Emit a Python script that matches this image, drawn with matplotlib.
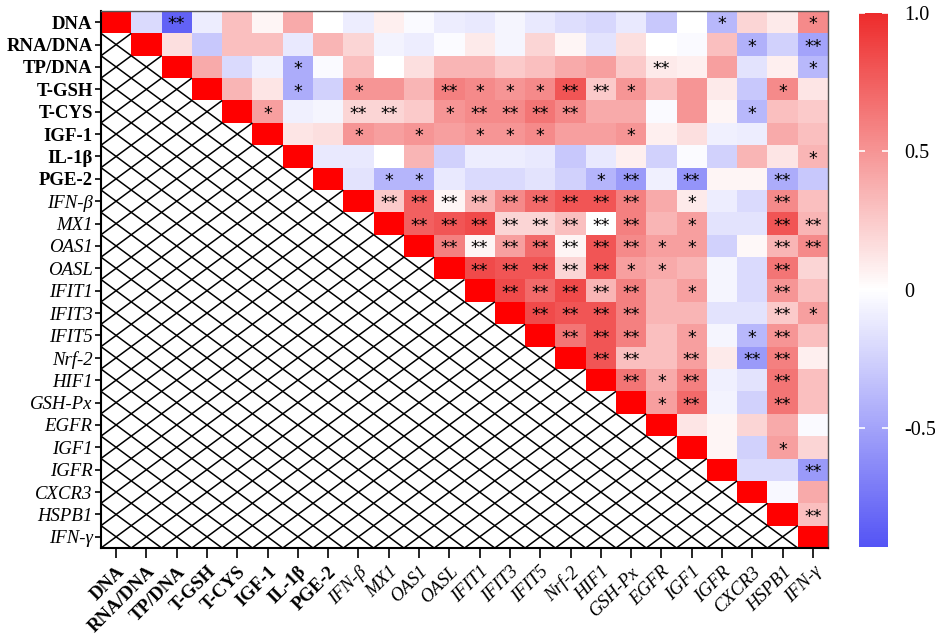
import numpy as np
import matplotlib
matplotlib.use('Agg')
import matplotlib.pyplot as plt
from matplotlib.colors import LinearSegmentedColormap, Normalize
from matplotlib.collections import LineCollection

labels = ['DNA', 'RNA/DNA', 'TP/DNA', 'T-GSH', 'T-CYS', 'IGF-1', 'IL-1β', 'PGE-2',
          'IFN-β', 'MX1', 'OAS1', 'OASL', 'IFIT1', 'IFIT3', 'IFIT5', 'Nrf-2', 'HIF1',
          'GSH-Px', 'EGFR', 'IGF1', 'IGFR', 'CXCR3', 'HSPB1', 'IFN-γ']
n_bold = 8  # first labels are bold, the genes are italic

# correlation values right of the diagonal, one list per row
upper = [
    [-0.2, -0.85, -0.1, 0.3, 0.05, 0.4, 0.0, -0.1, 0.08, -0.03, -0.1, -0.12, -0.05, -0.12, -0.18, -0.22, -0.12, -0.3, 0.0, -0.38, 0.2, 0.1, 0.55],
    [0.15, -0.3, 0.3, 0.3, -0.12, 0.35, 0.2, -0.07, -0.1, -0.02, 0.1, -0.05, 0.2, 0.05, -0.15, 0.15, 0.0, -0.03, 0.3, -0.42, -0.25, -0.5],
    [0.4, -0.2, -0.08, -0.45, -0.03, 0.3, 0.0, 0.15, 0.35, 0.35, 0.25, 0.3, 0.4, 0.45, 0.25, 0.1, 0.08, 0.45, -0.15, 0.08, -0.38],
    [0.35, 0.12, -0.45, -0.25, 0.5, 0.5, 0.35, 0.6, 0.55, 0.5, 0.55, 0.8, 0.25, 0.5, 0.3, 0.5, 0.1, -0.3, 0.55, 0.12],
    [0.45, -0.08, -0.05, 0.2, 0.2, 0.25, 0.5, 0.55, 0.55, 0.65, 0.55, 0.4, 0.4, -0.03, 0.5, 0.05, -0.38, 0.3, 0.25],
    [0.12, 0.15, 0.5, 0.45, 0.5, 0.45, 0.5, 0.5, 0.55, 0.45, 0.45, 0.5, 0.08, 0.15, -0.08, -0.1, 0.4, 0.3],
    [-0.12, -0.12, 0.0, 0.35, -0.25, -0.1, -0.1, -0.12, -0.3, -0.12, 0.08, -0.25, -0.02, -0.25, 0.35, 0.12, 0.35],
    [-0.15, -0.4, -0.4, -0.12, -0.2, -0.2, -0.15, -0.25, -0.4, -0.55, -0.08, -0.58, 0.05, 0.05, -0.45, -0.3],
    [0.25, 0.75, 0.05, 0.35, 0.55, 0.7, 0.8, 0.8, 0.6, 0.4, 0.1, -0.1, -0.2, 0.55, 0.3],
    [0.75, 0.8, 0.85, 0.2, 0.2, 0.3, 0.0, 0.6, 0.35, 0.45, -0.15, -0.15, 0.8, 0.35],
    [0.6, 0.05, 0.45, 0.7, 0.05, 0.8, 0.55, 0.45, 0.45, -0.25, 0.03, 0.35, 0.55],
    [0.85, 0.8, 0.8, 0.2, 0.8, 0.45, 0.4, 0.35, -0.05, -0.2, 0.65, 0.2],
    [0.85, 0.7, 0.85, 0.35, 0.6, 0.35, 0.45, -0.05, -0.2, 0.5, 0.3],
    [0.85, 0.8, 0.8, 0.6, 0.35, 0.35, -0.15, -0.15, 0.25, 0.45],
    [0.65, 0.8, 0.6, 0.3, 0.45, -0.05, -0.38, 0.5, 0.3],
    [0.8, 0.3, 0.3, 0.45, 0.1, -0.55, 0.6, 0.08],
    [0.65, 0.4, 0.6, -0.08, -0.15, 0.65, 0.3],
    [0.45, 0.7, -0.07, -0.25, 0.65, 0.3],
    [0.12, 0.05, 0.2, 0.4, -0.03],
    [0.05, -0.25, 0.45, 0.2],
    [-0.2, -0.2, -0.55],
    [-0.04, 0.4],
    [0.3],
]

# significance marks: (row, col, mark)
marks = [
    (0, 2, '**'), (0, 20, '*'), (0, 23, '*'),
    (1, 21, '*'), (1, 23, '**'),
    (2, 6, '*'), (2, 18, '**'), (2, 23, '*'),
    (3, 6, '*'), (3, 8, '*'), (3, 11, '**'), (3, 12, '*'), (3, 13, '*'), (3, 14, '*'),
    (3, 15, '**'), (3, 16, '**'), (3, 17, '*'), (3, 22, '*'),
    (4, 5, '*'), (4, 8, '**'), (4, 9, '**'), (4, 11, '*'), (4, 12, '**'), (4, 13, '**'),
    (4, 14, '**'), (4, 15, '**'), (4, 21, '*'),
    (5, 8, '*'), (5, 10, '*'), (5, 12, '*'), (5, 13, '*'), (5, 14, '*'), (5, 17, '*'),
    (6, 23, '*'),
    (7, 9, '*'), (7, 10, '*'), (7, 16, '*'), (7, 17, '**'), (7, 19, '**'), (7, 22, '**'),
    (8, 9, '**'), (8, 10, '**'), (8, 11, '**'), (8, 12, '**'), (8, 13, '**'), (8, 14, '**'),
    (8, 15, '**'), (8, 16, '**'), (8, 17, '**'), (8, 19, '*'), (8, 22, '**'),
    (9, 10, '**'), (9, 11, '**'), (9, 12, '**'), (9, 13, '**'), (9, 14, '**'), (9, 15, '**'),
    (9, 16, '**'), (9, 17, '**'), (9, 19, '*'), (9, 22, '**'), (9, 23, '**'),
    (10, 11, '**'), (10, 12, '**'), (10, 13, '**'), (10, 14, '**'), (10, 15, '**'),
    (10, 16, '**'), (10, 17, '**'), (10, 18, '*'), (10, 19, '*'), (10, 22, '**'), (10, 23, '**'),
    (11, 12, '**'), (11, 13, '**'), (11, 14, '**'), (11, 15, '**'), (11, 16, '**'),
    (11, 17, '*'), (11, 18, '*'), (11, 22, '**'),
    (12, 13, '**'), (12, 14, '**'), (12, 15, '**'), (12, 16, '**'), (12, 17, '**'),
    (12, 19, '*'), (12, 22, '**'),
    (13, 14, '**'), (13, 15, '**'), (13, 16, '**'), (13, 17, '**'), (13, 22, '**'), (13, 23, '*'),
    (14, 15, '**'), (14, 16, '**'), (14, 17, '**'), (14, 19, '*'), (14, 21, '*'), (14, 22, '**'),
    (15, 16, '**'), (15, 17, '**'), (15, 19, '**'), (15, 21, '**'), (15, 22, '**'),
    (16, 17, '**'), (16, 18, '*'), (16, 19, '**'), (16, 22, '**'),
    (17, 18, '*'), (17, 19, '**'), (17, 22, '**'),
    (19, 22, '*'),
    (20, 23, '**'),
    (22, 23, '**'),
]

vmin, vmax = -0.93, 1.0
n = len(labels)

# build the matrix: NaN below the diagonal, diagonal drawn as pure red
M = np.full((n, n), np.nan)
for i, row in enumerate(upper):
    M[i, i + 1:] = row
M[np.arange(n), np.arange(n)] = 2.0

mid = -vmin / (vmax - vmin)
cmap = LinearSegmentedColormap.from_list(
    'bwr_soft', [(0, (0.33, 0.33, 0.96)), (mid, (1, 1, 1)), (1, (0.93, 0.17, 0.17))])
cmap.set_over('#ff0000')
cmap.set_bad('white')
norm = Normalize(vmin=vmin, vmax=vmax)

plt.rcParams['font.family'] = ['Liberation Serif', 'DejaVu Serif']

fig = plt.figure(figsize=(9.35, 6.39), dpi=100)
ax = fig.add_axes([0.108, 0.1424, 0.7776, 0.8404])
ax.pcolormesh(np.arange(n + 1), np.arange(n + 1), np.ma.masked_invalid(M),
              cmap=cmap, norm=norm)

# crossed hatching on the lower triangle
segs = []
for i in range(n):
    for j in range(i):
        segs.append([(j, i), (j + 1, i + 1)])
        segs.append([(j, i + 1), (j + 1, i)])
ax.add_collection(LineCollection(segs, colors='black', linewidths=1.1))

for r, c, m in marks:
    ax.text(c + 0.5, r + 0.6, m, ha='center', va='center', fontsize=12.5,
            family='DejaVu Sans', color='black')

ax.set_xlim(0, n)
ax.set_ylim(n, 0)
ax.set_xticks(np.arange(n) + 0.5)
ax.set_yticks(np.arange(n) + 0.5)
ax.set_xticklabels(labels, rotation=45, ha='right', rotation_mode='anchor', fontsize=13.5)
ax.set_yticklabels(labels, fontsize=13.5)
for k, t in enumerate(ax.get_xticklabels()):
    if k < n_bold:
        t.set_fontweight('bold')
    else:
        t.set_fontstyle('italic')
for k, t in enumerate(ax.get_yticklabels()):
    if k < n_bold:
        t.set_fontweight('bold')
    else:
        t.set_fontstyle('italic')
ax.tick_params(axis='x', length=7, width=1.2, pad=4)
ax.tick_params(axis='y', length=4, width=1.2, pad=2)
for s in ['left', 'bottom']:
    ax.spines[s].set_linewidth(1.5)
for s in ['top', 'right']:
    ax.spines[s].set_linewidth(1.0)
    ax.spines[s].set_color('#555555')

cax = fig.add_axes([0.9187, 0.144, 0.031, 0.8357])
cb = fig.colorbar(plt.cm.ScalarMappable(norm=norm, cmap=cmap), cax=cax)
cb.outline.set_visible(False)
cb.set_ticks([-0.5, 0, 0.5, 1.0])
cb.set_ticklabels(['-0.5', '0', '0.5', '1.0'])
cax.tick_params(color='white', direction='in', length=4, width=1.2, left=True, right=True,
                labelsize=14.5, pad=12)

fig.savefig('out.png', dpi=100)
